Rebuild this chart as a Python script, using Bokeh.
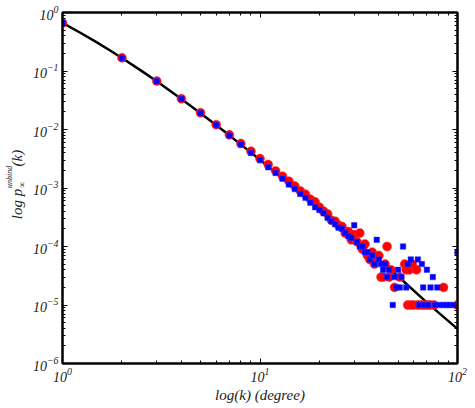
import math
from bokeh.plotting import figure
from bokeh.layouts import row
from bokeh.models import (LogAxis, FixedTicker, LogTickFormatter, Range1d,
                          CustomJSTickFormatter)
from bokeh.core.properties import value
from bokeh.embed import file_html
from bokeh.resources import INLINE

# ---- data ----
# theoretical curve (black line)
k_fit = [1, 1.25, 1.5, 1.75, 2, 2.5, 3, 4, 5, 7, 10, 15, 20, 30, 40, 50, 70, 100]
p_fit = [0.667, 0.438, 0.305, 0.2216, 0.1667, 0.1016, 0.0667, 0.0333, 0.0190, 0.00794,
         0.00303, 0.00098, 4.33e-4, 1.34e-4, 5.8e-5, 3.1e-5, 1.1e-5, 3.9e-6]

# red circles
k_red = [1, 2, 3, 4, 5, 6, 7, 8, 9, 10, 11, 12, 13, 14, 15, 16, 17, 18, 19,
         20, 21, 22, 23, 24, 25, 26, 27, 28, 29, 30, 31, 32, 33, 34, 35, 36, 37, 38, 39,
         40, 41, 42, 43, 44, 45, 46, 48, 51, 54, 55, 56, 57, 58, 59, 60, 62, 63, 65,
         67, 69, 71, 73, 76, 85, 100]
p_red = [0.662, 0.168, 0.0672, 0.0336, 0.0193, 0.0121, 0.0081, 0.00575, 0.00425, 0.00318,
         0.00252, 0.00196, 0.00159, 0.00131, 0.00108, 0.00089, 0.00078, 0.00064, 0.00058,
         4.7e-4, 4.0e-4, 3.6e-4, 2.8e-4, 2.7e-4, 2.3e-4, 2.2e-4, 1.7e-4, 1.8e-4, 1.3e-4,
         1.6e-4, 1.2e-4, 1.7e-4, 9e-5, 1.1e-4, 7e-5, 6e-5, 8e-5, 5e-5, 6e-5,
         7e-5, 3e-5, 3e-5, 5e-5, 1e-4, 3e-5, 4e-5, 2e-5, 3e-5, 5e-5, 4e-5, 1e-5, 4e-5,
         1e-5, 5e-5, 1e-5, 4e-5, 1e-5, 1e-5, 1e-5, 1e-5, 1e-5, 1e-5, 1e-5, 2e-5, 1e-5]

# blue squares
k_blue = [1, 2, 3, 4, 5, 6, 7, 8, 9, 10, 11, 12, 13, 14, 15, 16, 17, 18, 19,
          20, 21, 22, 23, 24, 25, 26, 27, 28, 29, 30, 31, 32, 33, 34, 35, 36, 37, 38, 39,
          40, 41, 42, 43, 44, 45, 47, 48, 49, 50, 51, 52, 53, 55, 56, 58, 63, 64, 66, 67,
          68, 70, 71, 73, 75, 77, 79, 81, 85, 88, 91, 95, 100]
p_blue = [0.667, 0.1665, 0.0665, 0.0333, 0.0190, 0.0119, 0.0079, 0.00552, 0.00398, 0.00300,
          0.00226, 0.00181, 0.00144, 0.00115, 0.00096, 0.00079, 0.00068, 0.00056, 0.00047,
          4.2e-4, 3.7e-4, 3.1e-4, 2.7e-4, 2.4e-4, 2.1e-4, 2.0e-4, 1.7e-4, 1.5e-4, 1.4e-4,
          2.3e-4, 1.2e-4, 1.0e-4, 1.0e-4, 8e-5, 8e-5, 6e-5, 7e-5, 5e-5, 1.3e-4,
          6e-5, 5e-5, 4e-5, 5e-5, 3e-5, 4e-5, 1e-5, 3e-5, 2e-5, 4e-5, 2e-5, 3e-5, 1e-4,
          2e-5, 5e-5, 6e-5, 6e-5, 1e-5, 5e-5, 2e-5, 1e-5, 4e-5, 1e-5, 2e-5, 3e-5, 1e-5,
          2e-5, 1e-5, 1e-5, 1e-5, 1e-5, 1e-5, 8e-5]

x_major = [1, 10, 100]
y_major = [1e-6, 1e-5, 1e-4, 1e-3, 1e-2, 1e-1, 1]
x_minor = [m * 10 ** e for e in range(0, 2) for m in range(2, 10)]
y_minor = [m * 10.0 ** e for e in range(-6, 0) for m in range(2, 10)]

x_label = "log(k) (degree)"
y_label_main = "log p"
y_label_sub = "\u221e"
y_label_sup = "unbind"
y_label_end = "(k)"

SERIF = "Liberation Serif"
TXT = "#222222"
H = 408
LAB_W = 28

# ---------------- main chart ----------------
p = figure(width=475 - LAB_W, height=H, x_axis_type="log", y_axis_type="log",
           x_range=Range1d(1, 100), y_range=Range1d(1e-6, 1),
           output_backend="svg", toolbar_location=None,
           min_border_left=62 - LAB_W, min_border_right=18, min_border_top=12,
           min_border_bottom=45, background_fill_color="white",
           border_fill_color="white")
p.xgrid.visible = False
p.ygrid.visible = False
p.outline_line_color = "black"
p.outline_line_width = 2

p.add_layout(LogAxis(), "above")
p.add_layout(LogAxis(), "right")

xt = FixedTicker(ticks=x_major, minor_ticks=x_minor)
yt = FixedTicker(ticks=y_major, minor_ticks=y_minor)

for ax in p.below + p.above:
    ax.ticker = xt
for ax in p.left + p.right:
    ax.ticker = yt

for ax in p.below + p.above + p.left + p.right:
    ax.axis_line_width = 2
    ax.axis_line_color = "black"
    ax.major_tick_in = 5
    ax.major_tick_out = 0
    ax.minor_tick_in = 3
    ax.minor_tick_out = 0
    ax.major_tick_line_color = "black"
    ax.minor_tick_line_color = "black"
    ax.major_label_text_font = SERIF
    ax.major_label_text_font_style = "italic"
    ax.major_label_text_font_size = "14px"
    ax.major_label_text_color = TXT

for ax in p.above + p.right:
    ax.formatter = CustomJSTickFormatter(code="return ''")
    ax.major_label_standoff = 0

for ax in p.below + p.left:
    ax.formatter = LogTickFormatter()
    ax.major_label_standoff = 4

xa = p.below[0]
xa.axis_label = x_label
xa.axis_label_text_font = SERIF
xa.axis_label_text_font_style = "italic"
xa.axis_label_text_font_size = "15px"
xa.axis_label_text_color = TXT
xa.axis_label_standoff = 2

p.line(k_fit, p_fit, line_color="black", line_width=2.5)
p.scatter(k_red, p_red, marker="circle", size=9, fill_color="#ff0000",
          line_color="#ff3030", line_alpha=0.5, line_width=1)
p.scatter(k_blue, p_blue, marker="square", size=5.5, fill_color="#0000ff",
          line_color="#3030ff", line_alpha=0.5, line_width=1)

# ---------------- y-axis label strip (rotated text with sub/superscript) ----------------
lab = figure(width=LAB_W, height=H, x_range=Range1d(0, LAB_W), y_range=Range1d(0, H),
             output_backend="svg", toolbar_location=None,
             min_border_left=0, min_border_right=0, min_border_top=0, min_border_bottom=0,
             background_fill_color="white", border_fill_color="white")
lab.axis.visible = False
lab.xgrid.visible = False
lab.ygrid.visible = False
lab.outline_line_color = None

common = dict(angle=math.pi / 2, text_font=value(SERIF), text_font_style="italic",
              text_color=TXT, text_baseline="alphabetic")
lab.text(x=[16], y=[H - 205], text=[y_label_main], text_align="right",
         text_font_size="15px", **common)
lab.text(x=[21], y=[H - 204], text=[y_label_sub], text_align="left",
         text_font_size="9px", **common)
lab.text(x=[9], y=[H - 204], text=[y_label_sup], text_align="left",
         text_font_size="8px", **common)
lab.text(x=[16], y=[H - 179], text=[y_label_end], text_align="left",
         text_font_size="15px", **common)

layout = row(lab, p, spacing=0)
open("out.html", "w").write(file_html(layout, INLINE))
